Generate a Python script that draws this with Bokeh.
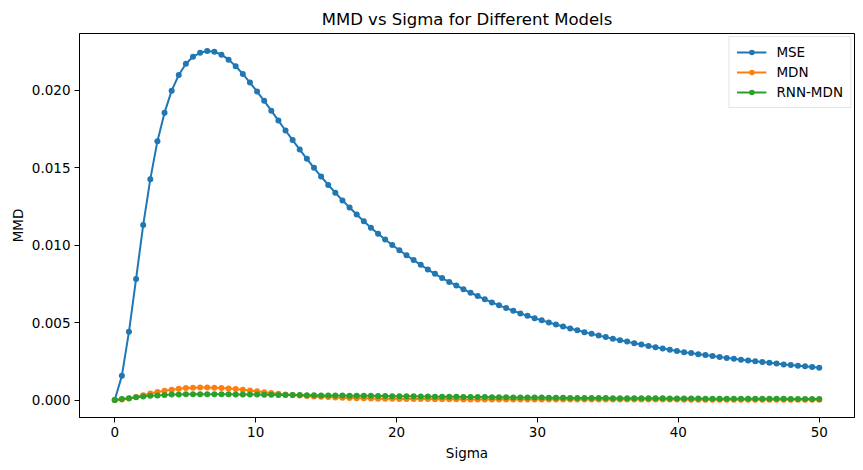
import numpy as np
from bokeh.plotting import figure
from bokeh.models import FixedTicker, PrintfTickFormatter, Range1d, Legend
from bokeh.embed import file_html
from bokeh.resources import INLINE

sigma = np.linspace(0, 50, 100)

mse = [0.0, 0.00156, 0.00440, 0.00781, 0.01129, 0.01425, 0.01670, 0.01854, 0.01996, 0.02097,
       0.02170, 0.02215, 0.02240, 0.02252, 0.02247, 0.02228, 0.02196, 0.02153, 0.02104, 0.02048,
       0.01990, 0.01930, 0.01867, 0.01803, 0.01739, 0.01677, 0.01616, 0.01556, 0.01498, 0.01442,
       0.01388, 0.01337, 0.01288, 0.01242, 0.01197, 0.01153, 0.01112, 0.01073, 0.01036, 0.01000,
       0.00966, 0.00934, 0.00903, 0.00872, 0.00842, 0.00814, 0.00787, 0.00762, 0.00739, 0.00715,
       0.00692, 0.00671, 0.00650, 0.00630, 0.00611, 0.00593, 0.00576, 0.00559, 0.00543, 0.00528,
       0.00514, 0.00500, 0.00487, 0.00474, 0.00462, 0.00450, 0.00438, 0.00427, 0.00416, 0.00406,
       0.00396, 0.00386, 0.00377, 0.00367, 0.00358, 0.00349, 0.00341, 0.00333, 0.00325, 0.00317,
       0.00309, 0.00303, 0.00296, 0.00290, 0.00284, 0.00278, 0.00272, 0.00266, 0.00260, 0.00255,
       0.00250, 0.00245, 0.00240, 0.00235, 0.00230, 0.00226, 0.00222, 0.00218, 0.00213, 0.00208]

mdn = [0.0, 0.00003, 0.00010, 0.00020, 0.00031, 0.00042, 0.00052, 0.00060, 0.00067, 0.00073,
       0.00077, 0.00080, 0.00081, 0.00081, 0.00080, 0.00078, 0.00075, 0.00071, 0.00066, 0.00061,
       0.00056, 0.00050, 0.00045, 0.00040, 0.00036, 0.00032, 0.00029, 0.00026, 0.00023, 0.00021,
       0.00019, 0.00017, 0.00015, 0.00014, 0.00012, 0.00011, 0.00010, 0.00009, 0.00008, 0.00008,
       0.00007, 0.00007, 0.00006, 0.00006, 0.00006, 0.00005, 0.00005, 0.00005, 0.00005, 0.00004,
       0.00004, 0.00004, 0.00004, 0.00004, 0.00004, 0.00004, 0.00004, 0.00004, 0.00004, 0.00004,
       0.00003, 0.00003, 0.00003, 0.00003, 0.00003, 0.00003, 0.00003, 0.00003, 0.00003, 0.00003,
       0.00003, 0.00003, 0.00003, 0.00003, 0.00003, 0.00003, 0.00003, 0.00003, 0.00003, 0.00003,
       0.00002, 0.00002, 0.00002, 0.00002, 0.00002, 0.00002, 0.00002, 0.00002, 0.00002, 0.00002,
       0.00002, 0.00002, 0.00002, 0.00002, 0.00002, 0.00002, 0.00002, 0.00002, 0.00002, 0.00002]

rnn_mdn = [0.0, 0.00006, 0.00012, 0.00018, 0.00023, 0.00027, 0.00030, 0.00033, 0.00035, 0.00036,
           0.00037, 0.00038, 0.00038, 0.00038, 0.00038, 0.00037, 0.00037, 0.00036, 0.00036, 0.00035,
           0.00035, 0.00034, 0.00034, 0.00033, 0.00033, 0.00032, 0.00032, 0.00031, 0.00031, 0.00030,
           0.00030, 0.00029, 0.00029, 0.00028, 0.00028, 0.00027, 0.00027, 0.00026, 0.00026, 0.00025,
           0.00025, 0.00024, 0.00024, 0.00023, 0.00023, 0.00022, 0.00022, 0.00021, 0.00021, 0.00020,
           0.00020, 0.00019, 0.00019, 0.00018, 0.00018, 0.00018, 0.00017, 0.00017, 0.00016, 0.00016,
           0.00016, 0.00015, 0.00015, 0.00015, 0.00014, 0.00014, 0.00014, 0.00013, 0.00013, 0.00013,
           0.00012, 0.00012, 0.00012, 0.00012, 0.00011, 0.00011, 0.00011, 0.00011, 0.00010, 0.00010,
           0.00010, 0.00010, 0.00010, 0.00009, 0.00009, 0.00009, 0.00009, 0.00009, 0.00008, 0.00008,
           0.00008, 0.00008, 0.00008, 0.00008, 0.00008, 0.00007, 0.00007, 0.00007, 0.00007, 0.00007]

series = [("MSE", mse, "#1f77b4"), ("MDN", mdn, "#ff7f0e"), ("RNN-MDN", rnn_mdn, "#2ca02c")]
x_ticks = [0, 10, 20, 30, 40, 50]
y_ticks = [0.0, 0.005, 0.010, 0.015, 0.020]

FONT = "DejaVu Sans"

p = figure(width=863, height=470, output_backend="svg", toolbar_location=None,
           title="MMD vs Sigma for Different Models",
           x_range=Range1d(-2.5, 52.5), y_range=Range1d(-0.001126, 0.023646),
           min_border_left=79, min_border_right=9, min_border_top=33, min_border_bottom=53)

items = []
for name, vals, col in series:
    r1 = p.line(sigma, vals, line_color=col, line_width=2)
    r2 = p.scatter(sigma, vals, size=6, fill_color=col, line_color=col, line_width=0)
    items.append((name, [r1, r2]))

legend = Legend(items=items, location="top_right")
legend.label_text_font = FONT
legend.label_text_font_size = "13.5px"
legend.label_text_color = "black"
legend.border_line_color = "#cccccc"
legend.border_line_width = 1
legend.background_fill_alpha = 0.8
legend.glyph_width = 30
legend.glyph_height = 14
legend.label_standoff = 10
legend.spacing = 4
legend.padding = 7
legend.margin = 3
legend.label_height = 14
p.add_layout(legend)

p.title.text_font = FONT
p.title.text_font_size = "16.5px"
p.title.text_font_style = "normal"
p.title.text_color = "black"
p.title.align = "center"
p.title.standoff = 10

p.xgrid.visible = False
p.ygrid.visible = False
p.outline_line_color = "black"
p.outline_line_alpha = 1
p.outline_line_width = 1

for ax in (p.xaxis[0], p.yaxis[0]):
    ax.major_label_text_font = FONT
    ax.major_label_text_font_size = "13.5px"
    ax.major_label_text_color = "black"
    ax.axis_label_text_font = FONT
    ax.axis_label_text_font_size = "13.5px"
    ax.axis_label_text_font_style = "normal"
    ax.axis_label_text_color = "black"
    ax.major_tick_in = 0
    ax.major_tick_out = 5
    ax.minor_tick_in = 0
    ax.minor_tick_out = 0
    ax.axis_line_color = "black"
    ax.major_tick_line_color = "black"
    ax.major_label_standoff = 4

p.xaxis[0].ticker = FixedTicker(ticks=x_ticks)
p.xaxis[0].formatter = PrintfTickFormatter(format="%d")
p.xaxis[0].axis_label = "Sigma"
p.xaxis[0].axis_label_standoff = 5
p.yaxis[0].ticker = FixedTicker(ticks=y_ticks)
p.yaxis[0].formatter = PrintfTickFormatter(format="%.3f")
p.yaxis[0].axis_label = "MMD"
p.yaxis[0].axis_label_standoff = 3

open("out.html", "w").write(file_html(p, INLINE))
